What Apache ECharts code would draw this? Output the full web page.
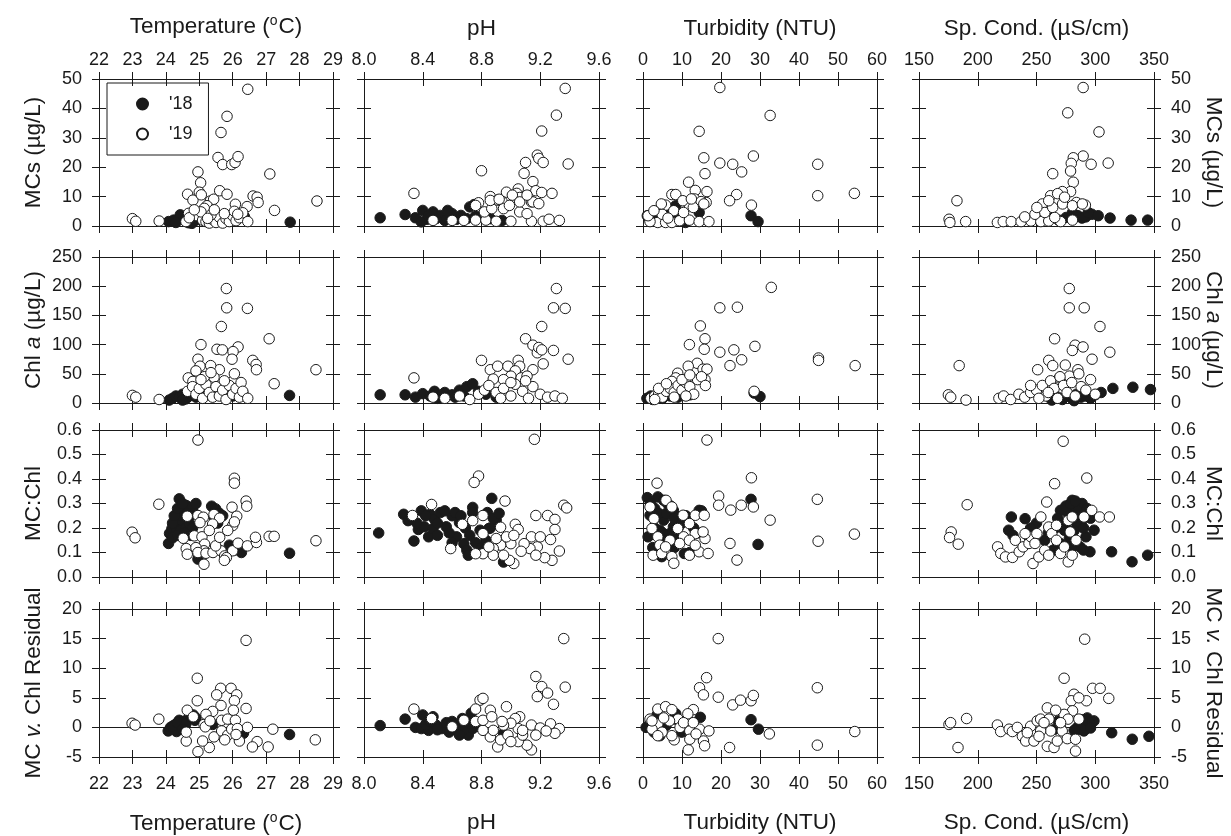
<!DOCTYPE html>
<html>
<head>
<meta charset="utf-8">
<title>MCs, Chl a, MC:Chl and residuals vs. water quality</title>
<script src="https://cdn.jsdelivr.net/npm/echarts@6.0.0/dist/echarts.min.js"></script>
<style>
  html, body { margin: 0; padding: 0; background: #fff; }
  #chart { width: 1231px; height: 836px; }
</style>
</head>
<body>
<div id="chart"></div>
<script>
// ---------- data: [x, y] per panel, '18 = filled, '19 = open ----------

// row 1 : MCs (ug/L)
const tempMcs18 = [[24.08,1.5],[24.23,2.0],[24.38,2.5],[24.48,3.0],[24.43,3.8],[24.68,1.1],[24.78,0.9],[27.72,1.3],[25.3,3.5],[25.5,2.8],[25.7,3.0],[26.0,2.2],[26.35,3.2],[25.15,3.0],[24.3,1.2],[24.6,2.6],[24.9,2.0]];
const tempMcs19 = [[26.45,46.5],[25.83,37.3],[25.65,31.8],[25.56,23.3],[25.7,20.9],[25.97,20.9],[26.07,21.6],[26.16,23.6],[24.96,18.4],[25.04,14.7],[27.11,17.7],[28.52,8.5],[27.25,5.3],[24.65,10.8],[24.81,8.8],[25.0,11.5],[25.06,10.6],[25.33,8.5],[25.43,9.1],[25.61,12.0],[25.83,10.8],[26.08,7.4],[26.43,6.6],[26.61,10.2],[26.73,9.8],[26.76,8.0],[25.23,6.9],[24.68,4.3],[25.15,6.0],[23.0,2.5],[23.1,1.6],[23.8,1.7],[24.6,1.5],[24.95,3.5],[25.1,2.0],[25.2,1.5],[25.3,1.0],[25.4,2.2],[25.5,1.2],[25.6,3.0],[25.7,1.0],[25.8,2.5],[25.9,1.5],[26.0,3.5],[26.1,1.8],[26.2,2.8],[26.3,4.5],[26.45,1.5],[25.05,4.8],[25.35,3.8],[25.75,4.2],[26.05,5.0],[24.7,2.8],[24.85,5.5],[25.25,2.6],[26.15,4.0],[25.45,5.5]];
const phMcs18 = [[8.11,2.8],[8.28,3.9],[8.35,2.8],[8.4,5.3],[8.47,4.8],[8.52,3.6],[8.43,2.3],[8.6,4.2],[8.66,3.6],[8.72,6.5],[8.75,7.3],[8.63,2.3],[8.55,1.9],[8.49,2.5],[8.7,2.5],[8.39,1.4],[8.76,3.4],[8.57,5.3],[8.44,3.6],[8.86,2.5],[8.94,1.9]];
const phMcs19 = [[9.37,46.8],[9.31,37.7],[9.21,32.3],[9.18,24.1],[9.19,23.0],[9.1,21.6],[9.22,21.6],[9.39,21.1],[8.8,18.8],[9.09,17.9],[9.15,15.1],[9.17,12.0],[9.21,11.4],[9.28,11.1],[9.14,8.2],[8.34,11.1],[8.97,11.5],[9.05,12.6],[9.04,11.1],[9.06,9.7],[9.01,10.5],[8.86,10.0],[8.91,8.8],[8.94,8.3],[8.78,7.9],[8.47,1.9],[8.6,1.9],[8.68,1.9],[8.76,2.0],[8.83,2.0],[8.9,1.6],[9.0,1.6],[9.14,1.6],[9.22,1.6],[9.26,2.3],[9.33,1.9],[8.82,4.8],[8.87,5.9],[8.95,5.9],[9.06,4.8],[9.11,4.2],[8.99,7.0],[8.76,7.0],[8.86,8.7],[8.92,9.1],[9.06,8.2],[9.15,8.2],[9.19,7.6],[9.11,10.5]];
const turbMcs18 = [[1.1,3.5],[2.8,2.7],[4.3,2.9],[8.4,6.9],[9.4,3.5],[14.4,4.6],[27.7,3.5],[29.5,1.5],[10.9,1.2],[5.8,2.3],[1.8,2.0],[6.8,4.0],[4.6,5.7]];
const turbMcs19 = [[19.7,47.1],[32.6,37.6],[14.4,32.2],[15.6,23.2],[19.7,21.4],[23.0,21.0],[25.3,18.4],[28.3,23.8],[44.8,21.0],[15.9,17.8],[11.7,14.9],[13.4,12.1],[13.2,9.2],[16.4,11.7],[44.8,10.3],[54.2,11.1],[24.0,10.7],[22.2,8.6],[27.8,7.1],[7.4,10.7],[8.4,10.7],[16.2,8.0],[14.9,8.3],[11.9,6.9],[5.8,7.1],[10.2,8.6],[3.8,1.2],[5.8,1.2],[7.4,1.2],[9.4,1.8],[11.9,2.0],[14.4,1.5],[16.9,1.5],[1.8,1.5],[1.3,3.5],[4.9,4.0],[7.9,5.2],[10.4,4.6],[12.9,6.3],[15.6,7.5],[12.4,9.2],[4.7,7.5],[2.8,5.2],[6.4,2.7]];
const condMcs18 = [[275.2,2.9],[285.3,3.5],[292,3.1],[297.1,4.0],[288.7,2.7],[312.6,2.7],[330.5,2.0],[344.6,2.0],[268.8,2.0],[280.6,4.6],[294,4.6],[263.8,2.9],[302.5,3.5]];
const condMcs19 = [[289.7,47.1],[276.6,38.5],[303.2,32.0],[289.7,23.8],[281.3,23.2],[279.6,21.3],[296.5,21.0],[311.0,21.4],[263.8,17.8],[279,18.7],[281.3,14.9],[279,11.7],[272,11.7],[262,10.3],[268,11.0],[182.3,8.6],[291.6,7.1],[284,8.0],[255,7.5],[175.6,2.3],[176.3,1.2],[189.7,1.5],[216.7,1.2],[221.7,1.5],[228.5,1.5],[236.9,1.5],[245.3,1.7],[253.7,1.5],[260.4,1.7],[270.5,1.5],[280.6,2.0],[240,3.1],[248.7,4.0],[257.1,4.6],[263.8,6.3],[272.2,7.5],[280.6,6.9],[289,7.5],[250.3,6.3],[260.4,8.6],[273.9,9.8],[265.5,2.9]];

// row 2 : Chl a (ug/L)
const tempChl18 = [[24.1,5],[24.2,8],[24.3,12],[24.4,10],[24.5,15],[24.6,7],[24.7,12],[24.8,18],[24.9,10],[25.3,14],[25.6,20],[26.0,12],[26.3,18],[27.7,13],[24.5,5],[25.0,22]];
const tempChl19 = [[25.81,196],[25.82,163],[26.44,162],[25.66,131],[27.09,110],[25.05,100],[25.53,92],[25.69,91],[26.16,96],[26.01,88],[25.98,75],[26.6,73],[26.7,66],[26.71,57],[25.6,57],[24.96,75],[25.02,63],[25.34,64],[24.67,43],[24.81,37],[25.44,44],[28.49,57],[27.24,33],[26.0,37],[23.0,13],[23.1,10],[23.8,6],[24.65,20],[24.8,28],[24.9,15],[25.0,25],[25.1,8],[25.2,32],[25.3,18],[25.4,10],[25.5,28],[25.6,12],[25.7,22],[25.8,6],[25.9,30],[26.0,15],[26.1,25],[26.2,10],[26.25,35],[26.3,20],[26.45,8],[25.15,45],[25.35,52],[24.9,55],[25.05,40],[25.75,38],[26.05,50]];
const phChl18 = [[8.11,14],[8.28,14],[8.35,10],[8.4,16],[8.45,12],[8.5,8],[8.55,18],[8.6,14],[8.65,22],[8.7,28],[8.74,33],[8.78,20],[8.62,10],[8.48,20],[8.68,12],[8.83,15],[8.9,10]];
const phChl19 = [[9.31,196],[9.29,163],[9.37,162],[9.21,131],[9.1,110],[9.15,99],[9.18,86],[9.19,95],[9.21,91],[9.29,90],[9.39,75],[9.22,67],[9.15,57],[8.8,73],[8.34,43],[8.86,57],[8.91,63],[8.98,63],[9.05,73],[9.06,63],[9.03,55],[9.0,46],[8.95,40],[8.88,41],[9.07,43],[9.11,46],[8.47,10],[8.55,8],[8.65,12],[8.72,6],[8.78,15],[8.82,22],[8.85,30],[8.9,18],[8.95,25],[9.0,12],[9.03,32],[9.08,20],[9.12,8],[9.15,28],[9.2,15],[9.25,10],[9.3,12],[9.35,8],[9.0,35],[8.93,8],[9.1,38]];
const turbChl18 = [[1,8],[2,12],[3,10],[4,14],[5,8],[6,16],[7,12],[8,20],[9,10],[10,18],[2.5,6],[5.5,22],[28.5,17],[30,11],[12,14]];
const turbChl19 = [[32.9,198],[19.7,163],[24.2,164],[14.7,132],[15.9,110],[11.9,100],[15.7,92],[19.7,87],[23.3,91],[28.7,97],[25.3,74],[22.3,64],[45.0,77],[45.0,73],[54.4,64],[13.9,68],[11.6,63],[15.4,58],[16.4,58],[8.9,51],[15.9,40],[8.4,43],[7.4,37],[2,8],[3,12],[4,15],[5,10],[6,20],[7,25],[8,18],[9,30],[10,22],[11,35],[12,28],[13,15],[14,40],[15,45],[16,30],[4,25],[6,33],[10,40],[12,48],[28.5,20],[3,6],[8,10],[11,12]];
const condChl18 = [[268,10],[272,6],[276,12],[280,8],[284,15],[288,10],[292,12],[296,8],[300,14],[305,18],[315,25],[332,27],[347,23],[263,5],[282,4],[290,18]];
const condChl19 = [[277.9,196],[277.9,163],[290.6,163],[304,131],[265.4,110],[282.9,99],[280.5,90],[289.6,96],[312.4,87],[297.3,75],[260.4,73],[263.8,64],[251,57],[274.5,65],[285.2,57],[278,46],[269.5,43],[184.2,64],[175,14],[177,10],[190,5],[218,8],[222,12],[228,6],[235,15],[240,10],[245,18],[250,22],[255,30],[258,12],[262,38],[265,25],[268,8],[270,45],[273,30],[276,18],[280,35],[283,12],[286,50],[288,28],[292,22],[296,40],[300,15],[245,30],[252,8],[260,18]];

// row 3 : MC:Chl
const tempRatio18 = [[24.4,0.319],[24.11,0.178],[24.08,0.137],[24.18,0.197],[24.3,0.21],[24.5,0.223],[24.55,0.278],[24.61,0.292],[24.79,0.285],[24.73,0.251],[24.43,0.251],[24.32,0.196],[24.45,0.19],[24.6,0.2],[25.37,0.289],[25.49,0.278],[25.6,0.26],[27.7,0.097],[26.26,0.1],[24.96,0.073],[24.2,0.22],[24.25,0.25],[24.35,0.28],[24.5,0.3],[24.65,0.26],[24.7,0.22],[24.8,0.2],[24.85,0.26],[24.9,0.3],[24.2,0.16],[24.35,0.17],[24.55,0.18],[24.75,0.17],[25.45,0.24],[25.55,0.22],[25.7,0.25],[26.05,0.11],[25.9,0.13]];
const tempRatio19 = [[24.96,0.559],[26.05,0.403],[26.05,0.383],[23.79,0.297],[22.99,0.183],[23.08,0.16],[26.4,0.31],[26.42,0.289],[25.98,0.285],[26.12,0.248],[26.0,0.21],[26.05,0.225],[24.96,0.251],[24.64,0.248],[25.12,0.244],[25.44,0.255],[25.61,0.24],[25.02,0.222],[25.4,0.216],[24.52,0.158],[24.85,0.168],[25.08,0.164],[25.16,0.134],[25.14,0.107],[24.61,0.116],[24.64,0.093],[24.9,0.12],[24.96,0.1],[25.2,0.097],[25.41,0.1],[25.65,0.107],[25.76,0.086],[26.0,0.107],[26.16,0.138],[26.44,0.127],[26.71,0.141],[26.68,0.162],[27.09,0.166],[27.24,0.166],[28.49,0.148],[25.14,0.052],[25.81,0.079],[25.75,0.068],[25.49,0.127],[25.61,0.162],[25.85,0.19],[25.3,0.19]];
const phRatio18 = [[8.1,0.18],[8.27,0.256],[8.34,0.147],[8.37,0.194],[8.39,0.27],[8.44,0.164],[8.41,0.205],[8.45,0.256],[8.48,0.236],[8.52,0.263],[8.56,0.205],[8.6,0.25],[8.62,0.263],[8.65,0.222],[8.63,0.164],[8.68,0.136],[8.7,0.109],[8.71,0.089],[8.74,0.284],[8.74,0.263],[8.84,0.263],[8.87,0.321],[8.9,0.232],[8.95,0.061],[8.79,0.191],[8.85,0.198],[8.47,0.198],[8.3,0.23],[8.36,0.22],[8.42,0.25],[8.5,0.22],[8.55,0.27],[8.58,0.18],[8.66,0.25],[8.69,0.2],[8.72,0.17],[8.76,0.14],[8.8,0.12],[8.83,0.15],[8.86,0.2],[8.88,0.24],[8.92,0.26],[8.6,0.14],[8.5,0.17]];
const phRatio19 = [[9.16,0.562],[8.78,0.412],[8.75,0.386],[8.96,0.31],[9.36,0.293],[9.38,0.282],[9.17,0.251],[9.25,0.251],[9.3,0.235],[9.3,0.194],[9.27,0.153],[9.33,0.106],[9.28,0.068],[9.23,0.079],[8.46,0.296],[8.33,0.251],[8.81,0.251],[8.74,0.23],[8.67,0.215],[8.93,0.203],[9.03,0.215],[9.05,0.194],[9.0,0.136],[8.93,0.13],[8.88,0.116],[8.81,0.177],[8.81,0.095],[8.76,0.095],[8.88,0.089],[8.59,0.116],[9.02,0.055],[8.99,0.068],[8.95,0.089],[9.14,0.164],[9.18,0.123],[9.2,0.164],[9.13,0.116],[9.17,0.089],[9.09,0.136],[9.07,0.105],[8.9,0.157],[8.97,0.164],[8.85,0.123],[9.02,0.17]];
const turbRatio18 = [[27.7,0.317],[29.5,0.133],[1.1,0.324],[3.8,0.327],[5.3,0.313],[6.3,0.299],[7.8,0.272],[9.4,0.245],[5.3,0.232],[4.3,0.191],[1.3,0.164],[7.8,0.205],[10.6,0.096],[4.8,0.083],[14.4,0.272],[6.8,0.177],[1.8,0.252],[2,0.3],[3,0.28],[4,0.26],[6,0.26],[7,0.29],[8,0.24],[9,0.2],[10,0.22],[11,0.25],[3,0.2],[5,0.18],[6,0.14],[8,0.12],[9,0.16],[2.5,0.12],[12,0.1],[13,0.2],[14,0.18],[15,0.27]];
const turbRatio19 = [[16.4,0.559],[3.6,0.383],[27.8,0.405],[19.4,0.33],[19.4,0.293],[22.5,0.273],[25.2,0.293],[28.3,0.286],[44.7,0.317],[32.6,0.232],[22.3,0.137],[24.1,0.069],[44.9,0.146],[54.2,0.175],[5.9,0.313],[1.8,0.286],[2.8,0.238],[2.3,0.198],[3.8,0.164],[4.3,0.13],[2.6,0.089],[4.8,0.096],[7.4,0.083],[7.9,0.056],[11.9,0.089],[14.4,0.103],[16.7,0.096],[15.9,0.157],[13.4,0.177],[10.4,0.164],[8.9,0.198],[7.4,0.286],[10.3,0.252],[13.4,0.252],[15.7,0.252],[11.9,0.218],[15.4,0.184],[9.4,0.137],[6.9,0.15],[11.9,0.15],[13.4,0.13],[5.8,0.123]];
const condRatio18 = [[228.6,0.245],[240.3,0.238],[226.3,0.191],[230,0.17],[243.6,0.164],[270.4,0.272],[280.4,0.313],[282.7,0.286],[277,0.258],[284.4,0.218],[273.7,0.191],[292.1,0.164],[295.5,0.103],[299,0.191],[270.4,0.137],[287,0.123],[313.9,0.103],[331.3,0.062],[344.6,0.089],[264,0.109],[257,0.15],[288.8,0.3],[262,0.2],[285,0.25],[266,0.2],[268,0.24],[272,0.22],[275,0.2],[278,0.16],[282,0.19],[285,0.27],[288,0.22],[290,0.2],[293,0.28],[296,0.24],[275,0.29],[279,0.3],[283,0.31],[268,0.14],[280,0.12],[290,0.11],[260,0.18],[250,0.22],[245,0.2]];
const condRatio19 = [[272.7,0.554],[265.4,0.381],[292.8,0.404],[258.7,0.306],[191,0.295],[177.4,0.184],[176,0.161],[183.4,0.134],[216.9,0.123],[219.6,0.096],[223.6,0.082],[229.6,0.08],[235.3,0.103],[238.6,0.123],[243.6,0.137],[245.3,0.164],[250.3,0.177],[247,0.055],[252,0.082],[257,0.109],[260.4,0.089],[260.4,0.204],[253.7,0.245],[263,0.177],[267,0.15],[270.4,0.096],[277,0.062],[280.4,0.089],[278.7,0.184],[277,0.231],[280.4,0.245],[290.4,0.245],[297,0.272],[303.7,0.245],[312,0.245],[232,0.15],[240.3,0.177],[248.7,0.137],[267,0.211],[283.7,0.15],[273.7,0.123]];

// row 4 : MC v. Chl residual
const tempResid18 = [[24.07,-0.6],[24.14,0],[24.26,0.4],[24.4,1.2],[24.52,1.0],[24.67,1.5],[24.82,2.1],[24.87,1.2],[24.44,-0.2],[24.32,-0.7],[27.7,-1.2],[26.32,-1.0],[25.4,0.5],[24.2,0.2],[24.35,0.8],[24.6,0.6],[24.75,1.8],[24.5,-0.3],[24.9,1.6]];
const tempResid19 = [[26.4,14.7],[24.94,8.3],[25.64,6.6],[25.95,6.6],[26.12,5.5],[26.05,4.5],[26.02,2.9],[25.52,5.5],[25.65,3.7],[24.94,4.5],[24.64,2.9],[25.4,2.7],[26.4,3.2],[26.44,0],[22.99,0.7],[23.08,0.4],[23.79,1.4],[27.2,-0.3],[28.47,-2.1],[27.06,-3.3],[26.73,-2.4],[26.59,-3.3],[26.2,-2.3],[24.96,-4.1],[25.3,-3.4],[25.1,-2.3],[24.61,-2.3],[24.61,-0.8],[25.14,0.5],[25.18,0.1],[25.44,-1.6],[25.67,-0.6],[25.85,-1.3],[25.97,-0.3],[25.67,1.2],[25.85,1.4],[26.08,1.2],[26.14,-0.2],[25.2,2.2],[25.32,1.1],[25.76,-2.1],[26.1,-1.2],[24.82,1.8]];
const phResid18 = [[8.11,0.3],[8.28,1.4],[8.4,2.1],[8.35,0],[8.39,-0.2],[8.44,-0.5],[8.47,1.8],[8.49,0.4],[8.53,-0.2],[8.6,1.0],[8.63,-0.5],[8.66,-1.0],[8.7,-0.7],[8.71,-1.3],[8.74,-0.2],[8.67,1.5],[8.73,2.4],[8.79,0.1],[8.95,-1.0],[8.42,0.5],[8.45,1.0],[8.5,-0.4],[8.56,0.8],[8.62,0.3],[8.68,-0.3],[8.72,0.7],[8.58,-0.8],[8.65,-1.3]];
const phResid19 = [[9.36,15.0],[9.37,6.8],[9.17,8.6],[9.21,6.9],[9.18,5.2],[9.25,5.8],[9.29,3.9],[8.79,4.6],[8.81,4.9],[8.97,3.5],[8.34,3.1],[8.76,3.1],[8.86,2.9],[9.14,0.4],[9.2,-0.1],[9.27,0.6],[9.33,-0.2],[9.3,-1.0],[9.24,-0.6],[9.14,-3.8],[9.11,-3.0],[9.05,-2.4],[8.91,-3.3],[8.93,-2.1],[8.86,-1.6],[8.98,-1.3],[9.05,-0.2],[9.06,1.8],[9.03,1.5],[9.0,0.7],[8.95,0.4],[8.88,-0.5],[8.81,-0.5],[8.76,1.0],[8.81,1.2],[8.68,1.2],[8.6,0.1],[8.46,1.5],[9.08,-1.3],[9.0,-2.4],[9.08,-0.5],[8.87,1.8],[8.94,1.0],[9.17,-1.3]];
const turbResid18 = [[27.7,1.3],[29.6,-0.3],[0.8,0],[1.8,0.8],[3.6,2.1],[4.3,-1.4],[8.0,1.4],[8.4,2.3],[9.9,-0.8],[14.7,1.7],[5.9,0.3],[2.8,-0.8],[11.5,0.3]];
const turbResid19 = [[19.3,15.0],[16.3,8.4],[14.5,6.7],[15.5,5.5],[19.3,5.1],[23.0,3.8],[25.0,4.6],[27.7,4.5],[28.3,5.4],[44.7,6.7],[44.7,-3.0],[54.3,-0.7],[32.4,-1.1],[22.2,-3.4],[11.6,-3.8],[1.8,1.4],[3.8,3.1],[5.8,3.5],[7.4,3.0],[12.9,3.0],[11.5,2.3],[9.0,1.4],[6.8,1.1],[3.8,0.6],[9.5,0],[12.0,-0.6],[14.5,-0.3],[16.9,-0.6],[15.5,-2.3],[15.8,-3.1],[12.0,-2.0],[8.0,-2.1],[7.4,-1.4],[4.9,-0.8],[2.3,-0.3],[13.6,-1.1],[10.4,0.8],[2.3,1.1],[5.3,1.6],[12.9,0.8],[3.8,-1.4]];
const condResid18 = [[268.5,1.1],[265.4,-0.3],[270.5,0],[284.7,0],[288.9,0.8],[290.3,-0.6],[294.6,0.2],[298.9,1.1],[293.2,1.6],[286.1,-0.3],[314,-0.9],[331.5,-2.0],[345.7,-1.5],[287,0.5],[292,-0.2],[295,0.8],[282,-0.5],[289,1.3],[296,-0.1]];
const condResid19 = [[291,14.9],[273.5,8.3],[297.7,6.6],[304.2,6.6],[292.5,4.5],[311.5,4.9],[281.9,5.6],[279.6,4.5],[286,5.0],[280.7,2.8],[273.5,2.2],[276.9,1.4],[175.5,0.5],[176.9,0.8],[190.5,1.5],[183.2,-3.4],[216.7,0.4],[219.5,-0.7],[226.7,-0.3],[229.5,-0.7],[233.7,0],[238,-1.5],[240.8,-2.3],[245,0.2],[247.8,-2.3],[250.6,1.1],[253.5,1.4],[259.2,3.3],[266.3,2.9],[260.6,1.4],[259.2,-3.2],[264.9,-3.4],[267.7,-2.3],[262.1,-0.6],[253.5,-0.6],[252.1,-1.5],[271.9,-0.6],[276.2,-1.9],[283.2,-4.0],[283.2,-2.0],[286.1,1.4],[270.5,0.8],[242.2,-0.9],[256.4,0.8]];

// axis ranges / ticks
const xMin = [22, 8.0, 0, 150];
const xMax = [29, 9.6, 60, 350];
const xStep = [1, 0.4, 10, 50];
const yMin = [0, 0, 0, -5];
const yMax = [50, 250, 0.6, 20];
const yStep = [10, 50, 0.1, 5];

// axis titles (rich text for superscript / italics)
const xNames = ['Temperature ({sup|o}C)', 'pH', 'Turbidity (NTU)', 'Sp. Cond. (\u00b5S/cm)'];
const yNames = ['MCs (\u00b5g/L)', 'Chl {it|a} (\u00b5g/L)', 'MC:Chl', 'MC {it|v.} Chl Residual'];

const panels = [
  [[tempMcs18, tempMcs19], [phMcs18, phMcs19], [turbMcs18, turbMcs19], [condMcs18, condMcs19]],
  [[tempChl18, tempChl19], [phChl18, phChl19], [turbChl18, turbChl19], [condChl18, condChl19]],
  [[tempRatio18, tempRatio19], [phRatio18, phRatio19], [turbRatio18, turbRatio19], [condRatio18, condRatio19]],
  [[tempResid18, tempResid19], [phResid18, phResid19], [turbResid18, turbResid19], [condResid18, condResid19]]
];

// ---------- layout ----------
const colLeft = [99, 364, 643, 919];
const colWidth = [234, 235, 234, 235];
const rowTop = [79, 257, 430, 609];
const rowHeight = [147, 146, 147, 148];

const ink = '#1a1a1a';
const font = "'Liberation Sans', Arial, Helvetica, sans-serif";
const tickFont = { fontSize: 18, color: ink, fontFamily: font };
const nameFont = {
  fontSize: 22.5, color: ink, fontFamily: font,
  rich: {
    sup: { fontSize: 14, color: ink, fontFamily: font, padding: [0, 1, 12, 0] },
    it: { fontSize: 22.5, color: ink, fontFamily: font, fontStyle: 'italic' }
  }
};

const xFmt = [v => String(Math.round(v)), v => v.toFixed(1), v => String(Math.round(v)), v => String(Math.round(v))];
const yFmt = [v => String(Math.round(v)), v => String(Math.round(v)), v => v.toFixed(1), v => String(Math.round(v))];

function xAxis(c, g, pos, inner, withLabels) {
  const axis = {
    type: 'value', gridIndex: g, position: pos,
    min: xMin[c], max: xMax[c], interval: xStep[c],
    axisLine: { show: !inner, onZero: false, lineStyle: { color: ink, width: 1 } },
    axisTick: { show: true, inside: inner, length: 7, lineStyle: { color: ink, width: 1 } },
    axisLabel: Object.assign({ show: withLabels, margin: pos === 'top' ? 10 : 18, formatter: xFmt[c],
      showMinLabel: true, showMaxLabel: true, hideOverlap: false }, tickFont),
    splitLine: { show: false }
  };
  if (withLabels) {
    Object.assign(axis, { name: xNames[c], nameLocation: 'middle', nameGap: pos === 'top' ? 39 : 54,
      nameTextStyle: nameFont, nameMoveOverlap: false });
  }
  return axis;
}

function yAxis(r, g, pos, inner, withLabels) {
  const axis = {
    type: 'value', gridIndex: g, position: pos,
    min: yMin[r], max: yMax[r], interval: yStep[r],
    axisLine: { show: !inner, onZero: false, lineStyle: { color: ink, width: 1 } },
    axisTick: { show: true, inside: inner, length: 7, lineStyle: { color: ink, width: 1 } },
    axisLabel: Object.assign({ show: withLabels, margin: 17, formatter: yFmt[r],
      showMinLabel: true, showMaxLabel: true, hideOverlap: false }, tickFont),
    splitLine: { show: false }
  };
  if (withLabels) {
    Object.assign(axis, { name: yNames[r], nameLocation: 'middle', nameGap: pos === 'left' ? 54 : 48,
      nameRotate: pos === 'left' ? 90 : -90, nameTextStyle: nameFont, nameMoveOverlap: false });
  }
  return axis;
}

const grids = [], xAxes = [], yAxes = [], series = [];
for (let r = 0; r < 4; r++) {
  for (let c = 0; c < 4; c++) {
    const g = r * 4 + c;
    grids.push({ left: colLeft[c], top: rowTop[r], width: colWidth[c], height: rowHeight[r], outerBoundsMode: 'none' });
    // axis 4g is the one the points use; the others only add the crossing ticks and the far-side labels
    xAxes.push(xAxis(c, g, 'bottom', false, r === 3));
    xAxes.push(xAxis(c, g, 'bottom', true, false));
    xAxes.push(xAxis(c, g, 'top', false, r === 0));
    xAxes.push(xAxis(c, g, 'top', true, false));
    yAxes.push(yAxis(r, g, 'left', false, c === 0));
    yAxes.push(yAxis(r, g, 'left', true, false));
    yAxes.push(yAxis(r, g, 'right', false, c === 3));
    yAxes.push(yAxis(r, g, 'right', true, false));

    const [d18, d19] = panels[r][c];
    const s18 = {
      type: 'scatter', name: "'18", xAxisIndex: 4 * g, yAxisIndex: 4 * g, data: d18,
      symbol: 'circle', symbolSize: 10.5, silent: true,
      itemStyle: { color: ink, borderColor: ink, borderWidth: 1, opacity: 1 }
    };
    if (r === 3) {
      // zero reference line of the residual panels
      s18.markLine = {
        silent: true, symbol: 'none', z: 1, label: { show: false },
        lineStyle: { color: ink, width: 1, type: 'solid' },
        data: [{ yAxis: 0 }]
      };
    }
    series.push(s18);
    series.push({
      type: 'scatter', name: "'19", xAxisIndex: 4 * g, yAxisIndex: 4 * g, data: d19,
      symbol: 'circle', symbolSize: 10.5, silent: true,
      itemStyle: { color: '#ffffff', borderColor: ink, borderWidth: 1, opacity: 1 }
    });
  }
}

const chart = echarts.init(document.getElementById('chart'), null, { renderer: 'canvas' });
chart.setOption({
  animation: false,
  backgroundColor: '#ffffff',
  legend: {
    data: ["'18", "'19"], orient: 'vertical', left: 107, top: 83,
    itemWidth: 11, itemHeight: 11, itemGap: 12,
    padding: [12, 16, 12, 29], borderColor: ink, borderWidth: 1, borderRadius: 0,
    selectedMode: false,
    textStyle: { fontSize: 18, color: ink, fontFamily: font, lineHeight: 18, padding: [0, 0, 0, 16] }
  },
  grid: grids,
  xAxis: xAxes,
  yAxis: yAxes,
  series: series
});
</script>
</body>
</html>
